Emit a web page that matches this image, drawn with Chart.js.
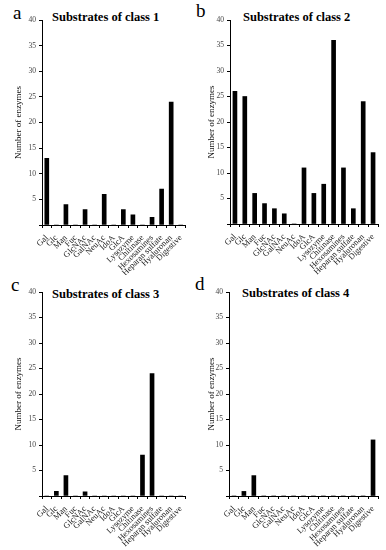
<!DOCTYPE html>
<html><head><meta charset="utf-8">
<script src="https://cdn.jsdelivr.net/npm/chart.js@4/dist/chart.umd.min.js"></script>
<style>
html,body{margin:0;padding:0;background:#fff;}
#wrap{position:relative;width:386px;height:550px;overflow:hidden;font-family:"Liberation Serif","Times New Roman",serif;}
.pane{position:absolute;width:193px;height:275px;}
.letter{position:absolute;font-family:"Liberation Serif",serif;font-size:19px;line-height:1;color:#000;}
.ttl{position:absolute;font-family:"Liberation Serif",serif;font-size:12.5px;font-weight:bold;line-height:1;color:#000;white-space:nowrap;}
</style></head><body>
<div id="wrap">
  <div class="letter" style="left:13px;top:3px;">a</div>
  <div class="letter" style="left:196px;top:1px;">b</div>
  <div class="letter" style="left:11px;top:275px;">c</div>
  <div class="letter" style="left:195px;top:274px;">d</div>
  <div class="ttl" style="left:52px;top:11px;">Substrates of class 1</div>
  <div class="ttl" style="left:243px;top:11px;">Substrates of class 2</div>
  <div class="ttl" style="left:52px;top:288px;">Substrates of class 3</div>
  <div class="ttl" style="left:242px;top:287px;">Substrates of class 4</div>
  <div class="pane" style="left:0;top:0;"><canvas id="c1" width="193" height="275"></canvas></div>
  <div class="pane" style="left:193px;top:0;"><canvas id="c2" width="193" height="275"></canvas></div>
  <div class="pane" style="left:0;top:275px;"><canvas id="c3" width="193" height="275"></canvas></div>
  <div class="pane" style="left:193px;top:275px;"><canvas id="c4" width="193" height="275"></canvas></div>
</div>
<script>
const substrates = ["Gal","Glc","Man","Fuc","GlcNAc","GalNAc","NeuAc","IdoA","GlcA","Lysozyme","Chitinase","Hexosamines","Heparan sulfate","Hyaluronan","Digestive"];
const class1 = [13, 0, 4, 0, 3, 0, 6, 0, 3, 2, 0, 1.5, 7, 24, 0];
const class2 = [26, 25, 6, 4, 3, 2, 0, 11, 6, 7.8, 36, 11, 3, 24, 14];
const class3 = [0, 0.9, 4, 0, 0.8, 0, 0, 0, 0, 0, 8, 24, 0, 0, 0];
const class4 = [0, 0.9, 4, 0, 0, 0, 0, 0, 0, 0, 0, 0, 0, 0, 11];
const yTicks = [0, 5, 10, 15, 20, 25, 30, 35, 40];
const yTitle = "Number of enzymes";

const serif = '"Liberation Serif","Times New Roman",serif';

function makeChart(id, data, yWidth, padTop, padRight, xHeight) {
  new Chart(document.getElementById(id), {
    type: 'bar',
    data: { labels: substrates, datasets: [{ data: data, backgroundColor: '#000', borderWidth: 0, barThickness: 4 }] },
    options: {
      responsive: false, animation: false, devicePixelRatio: 1,
      layout: { padding: { top: padTop, right: padRight, left: 0, bottom: 0 } },
      plugins: { legend: { display: false }, tooltip: { enabled: false }, title: { display: false } },
      scales: {
        x: {
          offset: true,
          afterFit: s => { s.height = xHeight; },
          grid: { display: true, drawOnChartArea: false, drawTicks: true, tickLength: 3, offset: true, color: '#000', lineWidth: 1 },
          border: { display: true, color: '#000', width: 1 },
          ticks: { autoSkip: false, minRotation: 45, maxRotation: 45, padding: 5, color: '#222', font: { family: serif, size: 8.5 } }
        },
        y: {
          min: 0, max: 40,
          afterFit: s => { s.width = yWidth; },
          afterBuildTicks: s => { s.ticks = yTicks.map(v => ({ value: v })); },
          grid: { display: true, drawOnChartArea: false, drawTicks: true, tickLength: 3, color: '#000', lineWidth: 1 },
          border: { display: true, color: '#000', width: 1 },
          ticks: { padding: 3, color: '#444', font: { family: serif, size: 7.5 }, callback: v => v === 0 ? '' : v },
          title: { display: true, text: yTitle, color: '#111', font: { family: serif, size: 9 }, padding: { top: 13, bottom: 0 } }
        }
      }
    }
  });
}
makeChart('c1', class1, 42, 20, 1, 50);
makeChart('c2', class2, 37, 20, 8, 51);
makeChart('c3', class3, 42, 17, 1, 54);
makeChart('c4', class4, 36, 17, 8, 54);
</script>
</body></html>
